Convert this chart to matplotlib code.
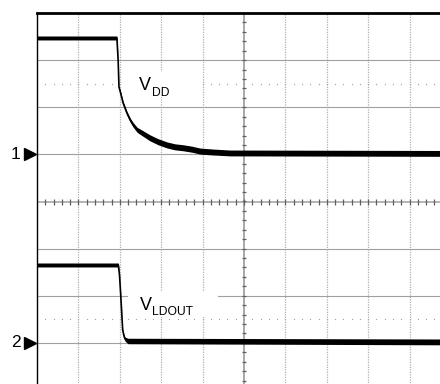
import matplotlib.pyplot as plt
import numpy as np
from matplotlib.patches import Rectangle

plt.rcParams['font.family'] = ['Liberation Sans', 'DejaVu Sans']

# screen is 10 x 8 divisions, time and volts in divisions
vdd_t = [0, 1.93, 1.96, 1.98, 2.02, 2.08, 2.17, 2.25, 2.32, 2.42, 2.53, 2.73, 2.92,
         3.14, 3.33, 3.53, 3.74, 3.94, 4.25, 4.66, 10]
vdd_v = [3.47, 3.47, 3.00, 2.43, 2.30, 2.09, 1.88, 1.73, 1.63, 1.52, 1.46, 1.35, 1.27,
         1.20, 1.16, 1.14, 1.11, 1.07, 1.05, 1.03, 1.02]
vdd_band = [0.042, 0.042, 0.021, 0.021, 0.024, 0.032, 0.038, 0.042, 0.048, 0.053, 0.058,
            0.064, 0.064, 0.064, 0.064, 0.064, 0.064, 0.064, 0.063, 0.062, 0.062]

ldo_t = [0, 1.964, 1.993, 2.022, 2.053, 2.07, 2.10, 2.126, 2.198, 10]
ldo_v = [-1.347, -1.347, -1.56, -1.98, -2.47, -2.73, -2.85, -2.92, -2.96, -2.98]
ldo_band = [0.042, 0.042, 0.021, 0.021, 0.021, 0.021, 0.032, 0.042, 0.058, 0.062]

ch_markers = {'1': 1.0, '2': -3.0}

fig = plt.figure(figsize=(4.4, 3.84), dpi=100)
ax = fig.add_axes([37 / 440, (384 - 390) / 384, 414 / 440, 377 / 384])
ax.set_xlim(0, 10)
ax.set_ylim(-4, 4)
ax.axis('off')

# graticule
for gx in range(1, 10):
    if gx != 5:
        ax.axvline(gx, color='#b0b0b0', lw=0.9, ls=(0, (1, 1)), zorder=1)
for gy in range(-3, 4):
    if gy != 0:
        ax.axhline(gy, color='#a0a0a0', lw=0.8, zorder=1)
ax.axvline(5, color='#a8a8a8', lw=1.4, zorder=1)
ax.axhline(0, color='#a8a8a8', lw=1.2, zorder=1)
minor_x = np.arange(0.2, 10, 0.2)
minor_y = np.arange(-3.8, 4, 0.2)
ax.plot(minor_x, np.zeros_like(minor_x), ls='none', marker='|', ms=4.5, mew=0.9, color='#606060', zorder=2)
ax.plot(np.full_like(minor_y, 5), minor_y, ls='none', marker='_', ms=3, mew=0.9, color='#606060', zorder=2)
for hy in (2.5, -2.5):
    ax.plot(minor_x, np.full_like(minor_x, hy), ls='none', marker='s', ms=0.8, mew=0, color='#a0a0a0', zorder=1)
ax.axhline(4, color='black', lw=2.0, zorder=3, clip_on=False)
ax.axvline(0, color='black', lw=1.0, zorder=3, clip_on=False)

# label backgrounds
ax.add_patch(Rectangle((2.13, 2.22), 1.69, 0.53, facecolor='white', edgecolor='none', zorder=2))
ax.add_patch(Rectangle((2.20, -2.45), 2.17, 0.53, facecolor='white', edgecolor='none', zorder=2))

# traces
for t, v, b in ((vdd_t, vdd_v, vdd_band), (ldo_t, ldo_v, ldo_band)):
    t = np.array(t)
    v = np.array(v)
    b = np.array(b)
    ax.fill_between(t, v - b, v + b, color='black', lw=0, zorder=4)
    ax.plot(t, v, color='black', lw=1.2, zorder=4, solid_joinstyle='round')

ax.text(2.46, 2.37, 'V', fontsize=13, ha='left', va='baseline', zorder=5)
ax.text(2.77, 2.24, 'DD', fontsize=8.7, ha='left', va='baseline', zorder=5)
ax.text(2.49, -2.30, 'V', fontsize=13, ha='left', va='baseline', zorder=5)
ax.text(2.77, -2.41, 'LDOUT', fontsize=8.7, ha='left', va='baseline', zorder=5)

for name, lvl in ch_markers.items():
    ax.text(-0.52, lvl - 0.09, name, fontsize=12.5, ha='center', va='baseline', clip_on=False)
    ax.plot([-0.16], [lvl], marker='>', ms=9, color='black', clip_on=False, zorder=5)

fig.savefig('out.png', dpi=100)
